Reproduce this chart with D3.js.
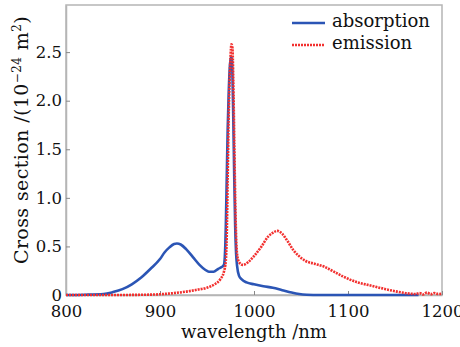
<!DOCTYPE html>
<html>
<head>
<meta charset="utf-8">
<script src="https://cdn.jsdelivr.net/npm/d3@7"></script>
<style>
  body { margin: 0; background: #fff; }
  text { font-family: "DejaVu Serif", serif; fill: #111; }
</style>
</head>
<body>
<div id="chart"></div>
<script>
const width = 460;
const height = 347;
const margin = { top: 5, right: 18, bottom: 52, left: 66 };

// absorption curve (wavelength nm, value 1e-24 m^2)
const absWl = [800, 820, 840, 850, 860, 870, 880, 890, 900, 905, 910, 915, 918, 922, 928, 935, 942, 948, 952, 957, 962, 966, 968, 969, 970, 971, 972, 973, 974, 975, 976, 977, 978, 979, 980, 981, 982, 984, 987, 992, 1000, 1010, 1020, 1030, 1040, 1048, 1056, 1070, 1100, 1140, 1175];
const absVal = [0, 0.003, 0.01, 0.03, 0.06, 0.11, 0.18, 0.27, 0.37, 0.44, 0.49, 0.525, 0.53, 0.52, 0.47, 0.39, 0.31, 0.26, 0.24, 0.24, 0.27, 0.29, 0.31, 0.4, 0.7, 1.2, 1.7, 2.05, 2.3, 2.42, 2.45, 2.3, 1.8, 1.2, 0.7, 0.42, 0.3, 0.2, 0.16, 0.13, 0.11, 0.09, 0.075, 0.05, 0.025, 0.01, 0.003, 0, 0, 0, 0];

// emission curve
const emiWl = [800, 850, 880, 900, 915, 928, 940, 950, 958, 964, 968, 970, 971, 972, 973, 974, 975, 976, 977, 978, 979, 980, 981, 982, 984, 988, 994, 1000, 1008, 1015, 1020, 1025, 1030, 1036, 1042, 1048, 1055, 1065, 1075, 1085, 1095, 1110, 1123, 1140, 1152, 1165, 1172, 1176, 1180, 1184, 1188, 1192, 1196, 1200];
const emiVal = [0, 0, 0.002, 0.008, 0.02, 0.035, 0.055, 0.075, 0.11, 0.16, 0.24, 0.35, 0.6, 1.2, 1.8, 2.2, 2.45, 2.58, 2.55, 2.2, 1.6, 1.0, 0.6, 0.42, 0.34, 0.31, 0.34, 0.4, 0.5, 0.6, 0.64, 0.66, 0.63, 0.55, 0.46, 0.4, 0.35, 0.32, 0.29, 0.24, 0.19, 0.13, 0.1, 0.06, 0.035, 0.015, 0.01, 0.02, 0.006, 0.025, 0.008, 0.02, 0.01, 0.012];

const xTicks = [800, 900, 1000, 1100, 1200];
const yTicks = [0, 0.5, 1.0, 1.5, 2.0, 2.5];
const yTickLabels = ["0", "0.5", "1.0", "1.5", "2.0", "2.5"];

const svg = d3.select("#chart")
  .append("svg")
  .attr("width", width)
  .attr("height", height);

const x = d3.scaleLinear().domain([800, 1200]).range([margin.left, width - margin.right]);
const y = d3.scaleLinear().domain([0, 2.985]).range([height - margin.bottom, margin.top]);

// frame
svg.append("rect")
  .attr("x", margin.left)
  .attr("y", margin.top)
  .attr("width", width - margin.left - margin.right)
  .attr("height", height - margin.top - margin.bottom)
  .attr("fill", "none")
  .attr("stroke", "#b5b5b5")
  .attr("stroke-width", 1.5);

// axes
const xAxis = svg.append("g")
  .attr("transform", `translate(0,${height - margin.bottom})`)
  .call(d3.axisBottom(x).tickValues(xTicks).tickFormat(d3.format("d")).tickSizeInner(-4).tickSizeOuter(0).tickPadding(10));
const yAxis = svg.append("g")
  .attr("transform", `translate(${margin.left},0)`)
  .call(d3.axisLeft(y).tickValues(yTicks).tickFormat((d, i) => yTickLabels[i]).tickSizeInner(-4).tickSizeOuter(0).tickPadding(4));

[xAxis, yAxis].forEach(g => {
  g.select(".domain").attr("stroke", "#b5b5b5").attr("stroke-width", 1.5);
  g.selectAll(".tick line").attr("stroke", "#888");
  g.selectAll(".tick text").attr("font-size", 16.5).attr("fill", "#111");
});

// curves
const absData = absWl.map((w, i) => [w, absVal[i]]);
const emiData = emiWl.map((w, i) => [w, emiVal[i]]);
const line = d3.line().x(d => x(d[0])).y(d => y(d[1])).curve(d3.curveMonotoneX);

svg.append("path")
  .datum(absData)
  .attr("d", line)
  .attr("fill", "none")
  .attr("stroke", "#2b55b5")
  .attr("stroke-width", 2.6);

svg.append("path")
  .datum(emiData)
  .attr("d", line)
  .attr("fill", "none")
  .attr("stroke", "#f2302f")
  .attr("stroke-width", 2.6)
  .attr("stroke-dasharray", "2,1");

// legend
const legend = svg.append("g");
legend.append("line").attr("x1", 292).attr("x2", 325).attr("y1", 23).attr("y2", 23)
  .attr("stroke", "#2b55b5").attr("stroke-width", 2.6);
legend.append("line").attr("x1", 292).attr("x2", 325).attr("y1", 45).attr("y2", 45)
  .attr("stroke", "#f2302f").attr("stroke-width", 2.6).attr("stroke-dasharray", "2,1");
legend.append("text").attr("x", 332).attr("y", 27).attr("font-size", 18).text("absorption");
legend.append("text").attr("x", 332).attr("y", 49).attr("font-size", 18).text("emission");

// axis titles
svg.append("text")
  .attr("x", (margin.left + width - margin.right) / 2)
  .attr("y", 338)
  .attr("text-anchor", "middle")
  .attr("font-size", 18)
  .text("wavelength /nm");

const yl = svg.append("text")
  .attr("transform", `translate(28,140) rotate(-90)`)
  .attr("text-anchor", "middle")
  .attr("font-size", 19)
  .attr("letter-spacing", 0.4);
yl.append("tspan").text("Cross section /(10");
yl.append("tspan").attr("dy", -7).attr("font-size", 12).text("−24");
yl.append("tspan").attr("dy", 7).text(" m");
yl.append("tspan").attr("dy", -7).attr("font-size", 12).text("2");
yl.append("tspan").attr("dy", 7).text(")");
</script>
</body>
</html>
